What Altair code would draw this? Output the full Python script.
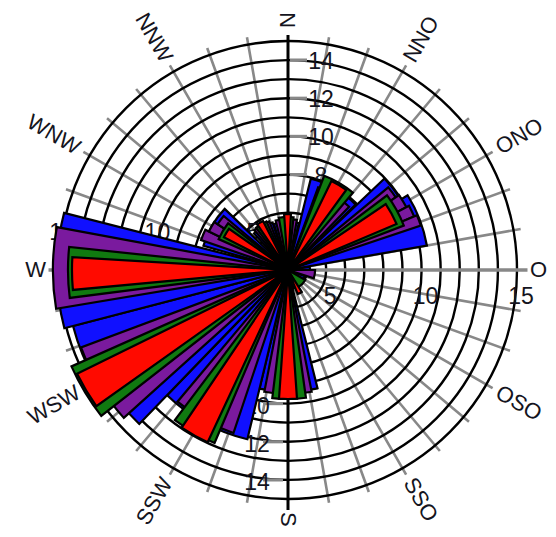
import altair as alt
import pandas as pd

# ---------------- data ----------------
series_names = ["blue", "purple", "green", "red"]
series_colors = ["#1010FF", "#7A1A9E", "#107A10", "#FF0A00"]

# wedges: start / end direction (compass degrees) and radial value
blue_start = [317, 343, 14, 46.5, 58, 82, 110, 166, 193.5, 224, 240, 255.4, 286]
blue_end = [342, 373, 46, 58, 80, 92, 165, 193.5, 224, 240, 255.4, 284.3, 314]
blue_value = [5.62, 5.52, 7.93, 9.97, 10.39, 4.15, 3.94, 9.39, 12.12, 14.22, 14.64, 15.11, 7.61]

purple_start = [320, 346, 20, 50.5, 56, 62, 67, 90, 169, 198.5, 228, 260.5, 289, 296, 303]
purple_end = [339, 370, 44, 56, 62, 67, 71.5, 108, 191, 220, 249.5, 280.5, 296, 303, 310]
purple_value = [5.73, 5.67, 7.61, 9.81, 10.02, 10.18, 10.34, 4.42, 9.5, 12.01, 14.58, 15.32, 7.82, 7.61, 7.4]

green_start = [323, 350, 21, 53, 120, 172, 203, 232, 262.7, 294]
green_end = [336, 366, 40, 69, 150, 187, 217, 246, 276, 308]
green_value = [5.78, 5.78, 8.29, 9.5, 4.05, 9.76, 12.85, 15.42, 14.53, 6.98]

red_start = [326, 356, 26, 56, 148, 176, 205, 234.6, 264.7, 297]
red_end = [333, 363, 36, 67, 158, 184, 214, 243.8, 273.4, 305]
red_value = [5.88, 5.93, 8.19, 9.18, 4.36, 9.76, 12.96, 15.32, 14.32, 6.77]

circle_values = [4, 5, 6, 7, 8, 9, 10, 11, 12, 13, 14, 15]
spoke_angles = [a for a in range(10, 360, 10) if a % 90 != 0]
direction_labels = ["N", "NNO", "ONO", "O", "OSO", "SSO", "S", "SSW", "WSW", "W", "WNW", "NNW"]
direction_angles = [0, 30, 60, 90, 120, 150, 180, 210, 240, 270, 300, 330]
north_ticks = [8, 10, 12, 14]
south_ticks = [10, 12, 14]
east_ticks = [5, 10, 15]
west_ticks = [5, 10, 15]

# ---------------- geometry / styling ----------------
CX, CY = 280, 262
R_MIN, R_MAX = 3, 15
R_PX = 229
FONT = "Liberation Sans"
TXT = "#141420"

theta_scale = alt.Scale(domain=[0, 360], range=[0, 6.283185307179586], nice=False, zero=False)
r_scale = alt.Scale(type="linear", domain=[R_MIN, R_MAX], range=[0, R_PX], nice=False, zero=False)
color_scale = alt.Scale(domain=series_names, range=series_colors)

center = dict(x=alt.value(CX), y=alt.value(CY))

def polar(theta_field, r_field, theta2_field=None):
    enc = dict(
        theta=alt.Theta(f"{theta_field}:Q", scale=theta_scale, stack=False),
        radius=alt.Radius(f"{r_field}:Q", scale=r_scale),
        **center,
    )
    if theta2_field:
        enc["theta2"] = alt.Theta2(f"{theta2_field}:Q")
    return enc

# ---------------- grid ----------------
circles_df = pd.DataFrame({"v": circle_values, "t0": 0, "t1": 360})
circles = alt.Chart(circles_df).mark_arc(filled=False, stroke="black", strokeWidth=2.4).encode(
    **polar("t0", "v", "t1")
)

spokes_df = pd.DataFrame({"a": spoke_angles, "len": 15.38})
spokes = alt.Chart(spokes_df).mark_arc(filled=False, stroke="#888888", strokeWidth=2.6).encode(
    **polar("a", "len", "a")
)

ew_df = pd.DataFrame({"a": [90, 270], "len": [15.55, 15.55]})
ew = alt.Chart(ew_df).mark_arc(filled=False, stroke="#888888", strokeWidth=3.5).encode(
    **polar("a", "len", "a")
)

ns_df = pd.DataFrame({"a": [0, 180], "len": [15.32, 15.58]})
ns = alt.Chart(ns_df).mark_arc(filled=False, stroke="black", strokeWidth=3).encode(
    **polar("a", "len", "a")
)

# radial ticks on the vertical axis
nt_df = pd.DataFrame({"v": north_ticks})
n_ticks = alt.Chart(nt_df).mark_rule(stroke="#888888", strokeWidth=3.2).encode(
    y=alt.Y("v:Q", scale=alt.Scale(domain=[R_MIN, R_MAX], range=[CY, CY - R_PX], nice=False, zero=False), axis=None),
    x=alt.value(CX + 2), x2=alt.value(CX + 19),
)
st_df = pd.DataFrame({"w": south_ticks})
s_ticks = alt.Chart(st_df).mark_rule(stroke="#888888", strokeWidth=3.2).encode(
    y=alt.Y("w:Q", scale=alt.Scale(domain=[R_MIN, R_MAX], range=[CY, CY + R_PX], nice=False, zero=False), axis=None),
    x=alt.value(CX - 25), x2=alt.value(CX - 5),
)

def num_layer(vals, ang, dx, dy):
    df = pd.DataFrame({"v": vals, "a": ang, "lab": [str(v) for v in vals]})
    return alt.Chart(df).mark_text(
        font=FONT, fontSize=23, color=TXT, align="center", baseline="middle", dx=dx, dy=dy
    ).encode(text="lab:N", **polar("a", "v"))

n_labels = num_layer(north_ticks, 0, 33, 2)
s_labels = num_layer(south_ticks, 180, -31, 3)
e_labels = num_layer(east_ticks, 90, 4, 27)
w_labels = num_layer(west_ticks, 270, 3, -37)

# ---------------- wedges ----------------
rows = []
for name, s, e, v in [
    ("blue", blue_start, blue_end, blue_value),
    ("purple", purple_start, purple_end, purple_value),
    ("green", green_start, green_end, green_value),
    ("red", red_start, red_end, red_value),
]:
    for a, b, c in zip(s, e, v):
        rows.append({"series": name, "start": a, "end": b, "value": c})
bars = pd.DataFrame(rows)

bar_layers = []
for name in series_names:
    bar_layers.append(
        alt.Chart(bars).transform_filter(alt.datum.series == name)
        .mark_arc(stroke="black", strokeWidth=2.2)
        .encode(color=alt.Color("series:N", scale=color_scale, legend=None), **polar("start", "value", "end"))
    )

# ---------------- direction labels ----------------
LAB_R = R_MIN + 242 / (R_PX / (R_MAX - R_MIN))
dir_df = pd.DataFrame({"lab": direction_labels, "a": direction_angles})
dir_df["rot"] = [((a - 90) % 360) if a <= 180 else ((a - 270) % 360) for a in direction_angles]
dir_df["r"] = LAB_R
right_df = dir_df[dir_df["a"] <= 180]
left_df = dir_df[dir_df["a"] > 180]

def dir_layer(df, align):
    return alt.Chart(df).mark_text(
        font=FONT, fontSize=22, color=TXT, align=align, baseline="middle"
    ).encode(text="lab:N", angle=alt.Angle("rot:Q", scale=None), **polar("a", "r"))

dir_right = dir_layer(right_df, "left")
dir_left = dir_layer(left_df, "right")

chart = alt.layer(
    spokes, circles, ew, ns, n_ticks, s_ticks,
    n_labels, s_labels, e_labels, w_labels,
    *bar_layers,
    dir_right, dir_left,
).resolve_scale(y="independent").properties(
    width=540, height=521, padding=0, autosize=alt.AutoSizeParams(type="none")
).configure_view(strokeWidth=0)

chart.save("out.html", embed_options={"renderer": "svg", "actions": False})
